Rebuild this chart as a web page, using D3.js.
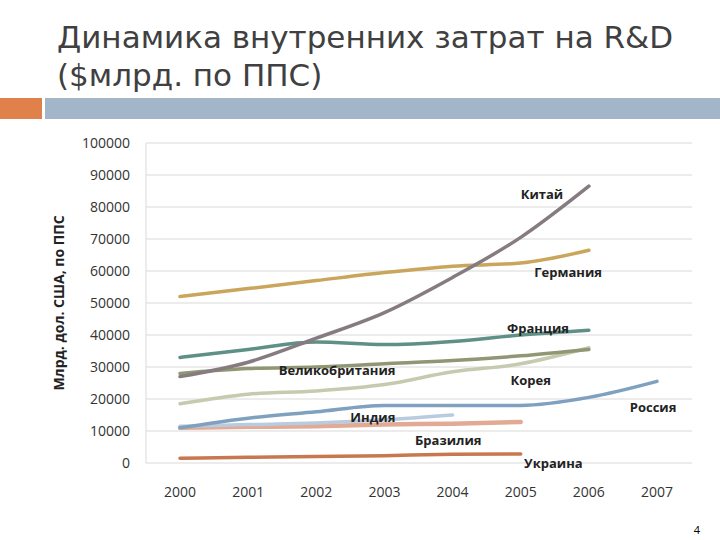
<!DOCTYPE html>
<html><head><meta charset="utf-8">
<script src="https://d3js.org/d3.v7.min.js"></script>
<style>body{margin:0;background:#fff}text{font-family:"Open Sans",sans-serif}</style>
</head><body><script>
const years = [2000,2001,2002,2003,2004,2005,2006,2007];
const yTicks = [0,10000,20000,30000,40000,50000,60000,70000,80000,90000,100000];
const china   = [27000,31500,39000,47000,58000,70500,86500];
const germany = [52000,54500,57000,59500,61500,62500,66500];
const france  = [33000,35500,37800,37000,38000,40000,41500];
const uk      = [28000,29500,30000,31000,32000,33500,35500];
const korea   = [18500,21500,22500,24500,28500,31000,36000];
const russia  = [11000,14000,16000,18000,18000,18000,20500,25500];
const india   = [11500,12000,12500,13500,15000];
const brazil  = [11000,11300,11500,12000,12300,12800];
const ukraine = [1500,1800,2000,2300,2700,2800];
const series = [
  {name:"Украина",v:ukraine,c:"#c8784e",w:3.5,lx:2005.05,ly:0},
  {name:"Бразилия",v:brazil,c:"#e2aa94",w:4.5,lx:2003.45,ly:7300},
  {name:"Индия",v:india,c:"#b8cbdf",w:3.5,lx:2002.5,ly:14500},
  {name:"Россия",v:russia,c:"#7fa1bf",w:3.5,lx:2006.6,ly:17500},
  {name:"Корея",v:korea,c:"#c6caaf",w:3.5,lx:2004.85,ly:26000},
  {name:"Великобритания",v:uk,c:"#8f9774",w:3.5,lx:2001.45,ly:29000},
  {name:"Франция",v:france,c:"#5f9085",w:3.5,lx:2004.8,ly:42300},
  {name:"Германия",v:germany,c:"#c9a65b",w:3.5,lx:2005.2,ly:59800},
  {name:"Китай",v:china,c:"#867b81",w:3.5,lx:2005.0,ly:84000}
];
const svg = d3.select("body").append("svg").attr("width",720).attr("height",540);
svg.append("text").attr("x",57).attr("y",48).attr("font-size",31).attr("fill","#404040")
  .style("font-family","DejaVu Sans").text("Динамика внутренних затрат на R&D");
svg.append("text").attr("x",57).attr("y",86).attr("font-size",31).attr("fill","#404040")
  .style("font-family","DejaVu Sans").text("($млрд. по ППС)");
svg.append("rect").attr("x",0).attr("y",98).attr("width",42).attr("height",21).attr("fill","#e0804a");
svg.append("rect").attr("x",45).attr("y",98).attr("width",675).attr("height",21).attr("fill","#a3b5c9");

const x = d3.scaleLinear().domain([2000,2007]).range([180,657]);
const y = d3.scaleLinear().domain([0,100000]).range([463,143]);

svg.append("g").selectAll("line").data(yTicks).join("line")
  .attr("x1",146).attr("x2",692).attr("y1",d=>y(d)).attr("y2",d=>y(d))
  .attr("stroke","#d9d9d9").attr("stroke-width",1);
svg.append("line").attr("x1",146).attr("x2",146).attr("y1",y(100000)).attr("y2",y(0)).attr("stroke","#d9d9d9");
svg.append("g").selectAll("text").data(yTicks).join("text")
  .attr("x",130).attr("y",d=>y(d)+5).attr("text-anchor","end").attr("font-size",14).attr("fill","#333")
  .text(d=>d);
svg.append("g").selectAll("text").data(years).join("text")
  .attr("x",d=>x(d)).attr("y",497).attr("text-anchor","middle").attr("font-size",14).attr("fill","#333")
  .text(d=>d);
svg.append("text").attr("transform","translate(64,303) rotate(-90)").attr("text-anchor","middle")
  .attr("font-size",14).attr("font-weight","bold").attr("fill","#222").text("Млрд. дол. США, по ППС");

const line = d3.line().x((d,i)=>x(2000+i)).y(d=>y(d)).curve(d3.curveMonotoneX);
svg.append("g").selectAll("path").data(series).join("path")
  .attr("d",d=>line(d.v)).attr("fill","none").attr("stroke",d=>d.c).attr("stroke-width",d=>d.w)
  .attr("stroke-linecap","round");
svg.append("g").selectAll("text").data(series).join("text")
  .attr("x",d=>x(d.lx)).attr("y",d=>y(d.ly)+5).attr("font-size",13).attr("font-weight","bold")
  .attr("fill","#222").text(d=>d.name);
svg.append("text").attr("x",700).attr("y",534).attr("text-anchor","end").attr("font-size",11).text("4");
</script></body></html>
